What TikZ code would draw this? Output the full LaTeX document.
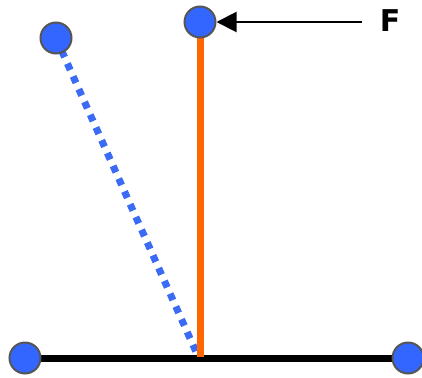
\documentclass[tikz,border=0pt]{standalone}
\usepackage{fontspec}
\setmainfont{DejaVu Sans}
\usetikzlibrary{arrows.meta}
\definecolor{ballblue}{HTML}{3366FF}
\definecolor{ballrim}{HTML}{555555}
\definecolor{rodorange}{HTML}{FF6600}
\definecolor{dotblue}{HTML}{3B6BF5}
\tikzset{
  ball/.style={circle, fill=ballblue, draw=ballrim, line width=2pt, minimum size=31pt, inner sep=0pt},
}
\begin{document}
\begin{tikzpicture}[x=1pt,y=-1pt]
\useasboundingbox (0,0) rectangle (422,377);
\coordinate (tl) at (56,38);
\coordinate (tc) at (200,22);
\coordinate (bl) at (25,358);
\coordinate (br) at (408,358);
\coordinate (base) at (200,358);
\coordinate (dotend) at (197,354);
\draw[line width=7pt, black] (bl) -- (br);
\draw[line width=7pt, dotblue, dash pattern=on 7pt off 7pt] (tl) -- (dotend);
\draw[line width=7pt, rodorange] (tc) -- ([yshift=1pt]base);
\node[ball] (ntl) at (tl) {};
\node[ball] (ntc) at (tc) {};
\node[ball] (nbl) at (bl) {};
\node[ball] (nbr) at (br) {};
\coordinate (fstart) at (362,22);
\node[font=\bfseries\fontsize{30}{30}\selectfont, anchor=center] (F) at (390,21) {F};
\draw[line width=2pt, -{Triangle[length=20pt,width=20pt]}] (fstart) -- (ntc);
\end{tikzpicture}
\end{document}
